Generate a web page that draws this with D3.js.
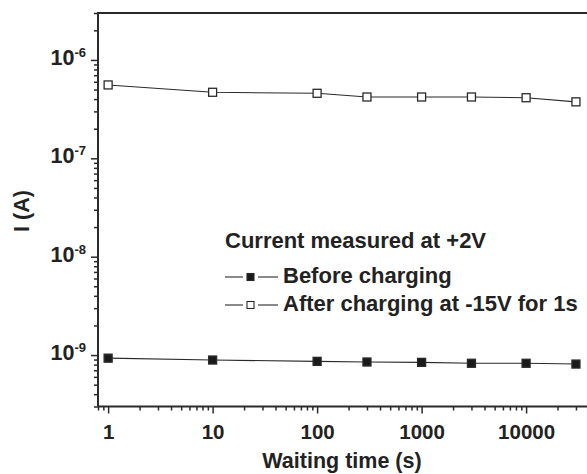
<!DOCTYPE html>
<html>
<head>
<meta charset="utf-8">
<script src="https://cdn.jsdelivr.net/npm/d3@7"></script>
<style>
  html, body { margin: 0; padding: 0; background: #fff; }
  text { font-family: "Liberation Sans", Arial, Helvetica, sans-serif; font-weight: bold; fill: #222; }
</style>
</head>
<body>
<svg id="chart" width="587" height="474"></svg>
<script>
// ---- data ----
const times = [1, 10, 100, 300, 1000, 3000, 10000, 30000];
const beforeCharging = [9.3e-10, 8.9e-10, 8.63e-10, 8.5e-10, 8.43e-10, 8.25e-10, 8.25e-10, 8.1e-10];
const afterCharging = [5.57e-7, 4.69e-7, 4.58e-7, 4.2e-7, 4.2e-7, 4.2e-7, 4.13e-7, 3.75e-7];
const xTickLabels = ["1", "10", "100", "1000", "10000"];
const xTickValues = [1, 10, 100, 1000, 10000];
const yTickExponents = [-9, -8, -7, -6];
const legendTitle = "Current measured at +2V";
const seriesNames = ["Before charging", "After charging at -15V for 1s"];
const xTitle = "Waiting time (s)";
const yTitle = "I (A)";

// ---- layout ----
const svg = d3.select("#chart");
const pLeft = 98, pRight = 589, pTop = 13, pBottom = 406.5;
const x = d3.scaleLog().domain([0.8, 40000]).range([pLeft, pRight]);
const y = d3.scaleLog().domain([3e-10, 3e-6]).range([pBottom, pTop]);
const ink = "#2a2a2a";

// minor ticks
const xMinor = [];
for (let e = -1; e <= 4; e++) for (let m = 1; m <= 9; m++) {
  const v = m * Math.pow(10, e);
  if (v >= x.domain()[0] && v <= x.domain()[1] && !xTickValues.includes(v)) xMinor.push(v);
}
const yMinor = [];
for (let e = -10; e <= -6; e++) for (let m = 1; m <= 9; m++) {
  const v = m * Math.pow(10, e);
  if (v >= y.domain()[0] * 0.999 && v <= y.domain()[1] * 1.001 && m !== 1) yMinor.push(v);
}

// X axis
const gx = svg.append("g").attr("transform", `translate(0,${pBottom})`);
gx.call(d3.axisBottom(x).tickValues(xMinor).tickSize(4).tickFormat(""));
const gx2 = svg.append("g").attr("transform", `translate(0,${pBottom})`);
gx2.call(d3.axisBottom(x).tickValues(xTickValues).tickSize(7).tickPadding(9)
  .tickFormat((d, i) => xTickLabels[i]));
[gx, gx2].forEach(g => {
  g.selectAll("path").remove();
  g.selectAll("line").attr("stroke", ink).attr("stroke-width", 1.5);
});
gx2.selectAll("text").attr("font-size", 20.5).attr("fill", ink).attr("dy", null).attr("y", 0)
  .attr("transform", "translate(0,32.5)").attr("font-family", null);

// Y axis
const gy = svg.append("g").attr("transform", `translate(${pLeft},0)`);
gy.call(d3.axisLeft(y).tickValues(yMinor).tickSize(4).tickFormat(""));
const gy2 = svg.append("g").attr("transform", `translate(${pLeft},0)`);
gy2.call(d3.axisLeft(y).tickValues(yTickExponents.map(e => Math.pow(10, e))).tickSize(7).tickFormat(""));
[gy, gy2].forEach(g => {
  g.selectAll("path").remove();
  g.selectAll("line").attr("stroke", ink).attr("stroke-width", 1.5);
});
yTickExponents.forEach(e => {
  const t = svg.append("text")
    .attr("x", 86).attr("y", y(Math.pow(10, e)) + 5)
    .attr("text-anchor", "end").attr("font-size", 21.5).attr("fill", ink);
  t.append("tspan").text("10");
  t.append("tspan").attr("font-size", 13).attr("dy", -8).text(String(e));
});

// frame lines
svg.append("line").attr("x1", pLeft).attr("x2", pLeft).attr("y1", pTop).attr("y2", pBottom)
  .attr("stroke", ink).attr("stroke-width", 2);
svg.append("line").attr("x1", pLeft).attr("x2", 587).attr("y1", pBottom).attr("y2", pBottom)
  .attr("stroke", ink).attr("stroke-width", 2);
svg.append("line").attr("x1", pLeft - 1).attr("x2", 587).attr("y1", pTop).attr("y2", pTop)
  .attr("stroke", ink).attr("stroke-width", 2);

// titles
svg.append("text").attr("x", 342).attr("y", 468).attr("text-anchor", "middle")
  .attr("font-size", 21.5).attr("fill", ink).text(xTitle);
svg.append("text").attr("transform", "translate(29,211) rotate(-90)").attr("text-anchor", "middle")
  .attr("font-size", 21.5).attr("fill", ink).text(yTitle);

// series
const line = d3.line().x(d => x(d[0])).y(d => y(d[1]));
const series = [
  { vals: beforeCharging, fill: "#1a1a1a" },
  { vals: afterCharging, fill: "#ffffff" }
];
const ms = 8;
series.forEach(s => {
  const pts = times.map((t, i) => [t, s.vals[i]]);
  svg.append("path").datum(pts).attr("d", line).attr("fill", "none")
    .attr("stroke", ink).attr("stroke-width", 1.1);
  svg.selectAll(null).data(pts).enter().append("rect")
    .attr("x", d => x(d[0]) - ms / 2).attr("y", d => y(d[1]) - ms / 2)
    .attr("width", ms).attr("height", ms)
    .attr("fill", s.fill).attr("stroke", ink).attr("stroke-width", 1.3);
});

// legend
svg.append("text").attr("x", 225).attr("y", 248).attr("font-size", 22).attr("fill", ink).text(legendTitle);
const legRows = [277, 305];
series.forEach((s, i) => {
  const ly = legRows[i];
  svg.append("line").attr("x1", 225).attr("x2", 243).attr("y1", ly).attr("y2", ly)
    .attr("stroke", ink).attr("stroke-width", 1.1);
  svg.append("line").attr("x1", 258).attr("x2", 278).attr("y1", ly).attr("y2", ly)
    .attr("stroke", ink).attr("stroke-width", 1.1);
  svg.append("rect").attr("x", 247).attr("y", ly - 3.5).attr("width", 7).attr("height", 7)
    .attr("fill", s.fill).attr("stroke", ink).attr("stroke-width", 1.1);
  svg.append("text").attr("x", 283).attr("y", ly + 6).attr("font-size", 22).attr("fill", ink)
    .text(seriesNames[i]);
});
</script>
</body>
</html>
